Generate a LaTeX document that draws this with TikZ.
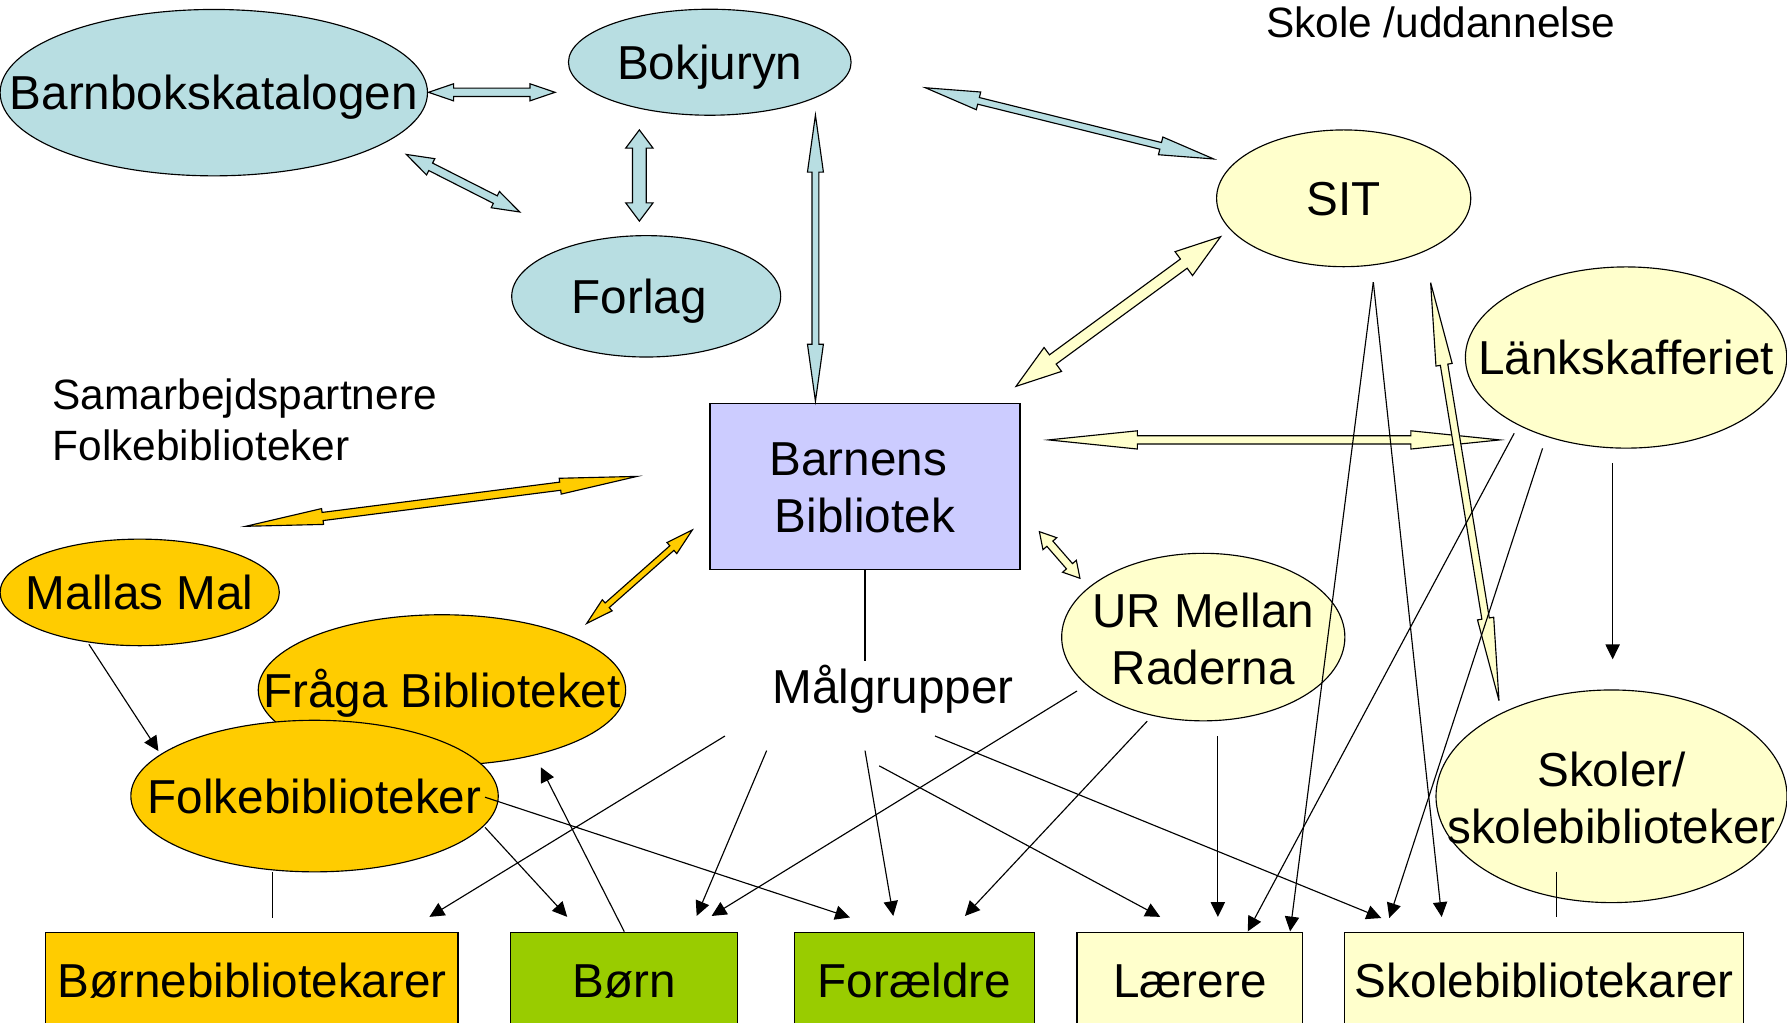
\documentclass[tikz,border=0pt]{standalone}
\usepackage{fontspec}
\setmainfont{Liberation Sans}
\usetikzlibrary{calc,arrows.meta,shapes.geometric}

\definecolor{cblue}{RGB}{184,222,226}
\definecolor{cyel}{RGB}{255,255,204}
\definecolor{corg}{RGB}{255,204,0}
\definecolor{cgrn}{RGB}{153,204,0}
\definecolor{clav}{RGB}{204,204,255}

\newcommand\dblarrow[6]{%
  \draw[barrow, fill=#6]
    (#1)
    -- ($(#1)!#5!(#2)!#4!90:(#2)$)
    -- ($(#1)!#5!(#2)!#3!90:(#2)$)
    -- ($(#2)!#5!(#1)!#3!-90:(#1)$)
    -- ($(#2)!#5!(#1)!#4!-90:(#1)$)
    -- (#2)
    -- ($(#2)!#5!(#1)!#4!90:(#1)$)
    -- ($(#2)!#5!(#1)!#3!90:(#1)$)
    -- ($(#1)!#5!(#2)!#3!-90:(#2)$)
    -- ($(#1)!#5!(#2)!#4!-90:(#2)$)
    -- cycle;}

\tikzset{
  ell/.style={ellipse, draw, line width=1pt, inner sep=0pt},
  bx/.style={rectangle, draw, line width=1pt, inner sep=0pt,
    font=\fontsize{41.8}{50}\selectfont, text height=30pt, text depth=0pt},
  lbl/.style={font=\fontsize{41.8}{50}\selectfont, inner sep=0pt, text height=30pt, text depth=0pt},
  lbltwo/.style={font=\fontsize{41.8}{50}\selectfont, inner sep=0pt, align=center},
  sm/.style={font=\fontsize{37.2}{45}\selectfont, inner sep=0pt},
  barrow/.style={draw, line width=1pt, line join=miter},
  tarrow/.style={draw, line width=1pt, -{Triangle[length=13pt,width=12.5pt]}},
  tline/.style={draw, line width=1pt},
}

\begin{document}
\begin{tikzpicture}[x=1pt,y=-1pt]
\useasboundingbox (0,0) rectangle (1568,897);
\clip (0,0) rectangle (1568,897);

% ---- nodes ----
\node[ell, fill=cblue, minimum width=375pt, minimum height=146pt, label={[lbl]center:Barnbokskatalogen}] (bbk) at (187.6,81.3) {};
\node[ell, fill=cblue, minimum width=248pt, minimum height=93pt, label={[lbl]center:Bokjuryn}] (bok) at (622.8,54.6) {};
\node[ell, fill=cblue, minimum width=236pt, minimum height=106.5pt, label={[lbl, xshift=-6pt]center:Forlag}] (forlag) at (567,260) {};
\node[ell, fill=cyel, minimum width=223pt, minimum height=120pt, label={[lbl]center:SIT}] (sit) at (1179,174) {};
\node[ell, fill=cyel, minimum width=282pt, minimum height=159pt, label={[lbl]center:Länkskafferiet}] (lank) at (1426.8,313.7) {};
\node[ell, fill=cyel, minimum width=248.5pt, minimum height=147pt, label={[lbltwo, yshift=-2pt]center:UR Mellan\\Raderna}] (ur) at (1055.8,559) {};
\node[ell, fill=cyel, minimum width=308pt, minimum height=186.6pt, label={[lbltwo, yshift=-1.5pt]center:Skoler/\\skolebiblioteker}] (skoler) at (1414,698.7) {};
\node[ell, fill=corg, minimum width=245pt, minimum height=93.5pt, label={[lbl]center:Mallas Mal}] (mallas) at (122.6,519.8) {};
\node[ell, fill=corg, minimum width=322.4pt, minimum height=132pt, label={[lbl]center:Fråga Biblioteket}] (fraga) at (387.8,605.4) {};
\node[ell, fill=corg, minimum width=322.4pt, minimum height=133pt, label={[lbl]center:Folkebiblioteker}] (folk) at (276,698.5) {};
\node[rectangle, draw, line width=1pt, fill=clav, minimum width=272pt, minimum height=145.5pt, label={[lbltwo, yshift=-1pt]center:Barnens\kern11.6pt\\Bibliotek}] (bb) at (759,426.75) {};

\node[bx, fill=corg, minimum width=361.6pt, minimum height=84pt] (bbib) at (221.1,860) {Børnebibliotekarer};
\node[bx, fill=cgrn, minimum width=199pt, minimum height=84pt] (born) at (547.8,860) {Børn};
\node[bx, fill=cgrn, minimum width=210.5pt, minimum height=84pt] (forael) at (802.25,860) {Forældre};
\node[bx, fill=cyel, minimum width=198pt, minimum height=84pt] (laer) at (1044,860) {Lærere};
\node[bx, fill=cyel, minimum width=350pt, minimum height=84pt] (skbib) at (1355,860) {Skolebibliotekarer};

\node[lbl] (malg) at (783.5,602) {Målgrupper};
\node[sm, text height=26.6pt, text depth=0pt] (skole) at (1264,20) {Skole /uddannelse};
\node[sm, align=left, anchor=west] (samarb) at (46,368.5) {Samarbejdspartnere\\Folkebiblioteker};

% ---- block arrow end points ----
\coordinate (a1) at (376,81);      \coordinate (a2) at (487,81);
\coordinate (b1) at (356.5,135.5); \coordinate (b2) at (456,186);
\coordinate (c1) at (561,114);     \coordinate (c2) at (561,194);
\coordinate (d1) at (715.5,101);   \coordinate (d2) at (715.5,352);
\coordinate (e1) at (812,77);      \coordinate (e2) at (1065,139.5);
\coordinate (f1) at (1071,207.7);  \coordinate (f2) at (891.5,339);
\coordinate (g1) at (920,386);     \coordinate (g2) at (1316,386);
\coordinate (h1) at (1255.3,248);  \coordinate (h2) at (1315.3,614.8);
\coordinate (i1) at (912,466.5);   \coordinate (i2) at (947.6,507.4);
\coordinate (j1) at (215.6,461.8); \coordinate (j2) at (559,418);
\coordinate (k1) at (607.5,465);   \coordinate (k2) at (514.8,547);

\dblarrow{a1}{a2}{3.7pt}{7.5pt}{22pt}{cblue}
\dblarrow{b1}{b2}{3.7pt}{8pt}{24pt}{cblue}
\dblarrow{c1}{c2}{6pt}{12pt}{16pt}{cblue}
\dblarrow{d1}{d2}{3pt}{7pt}{50pt}{cblue}
\dblarrow{e1}{e2}{3pt}{8pt}{48pt}{cblue}
\dblarrow{f1}{f2}{5pt}{13pt}{40pt}{cyel}
\dblarrow{g1}{g2}{3.6pt}{8pt}{78pt}{cyel}
\dblarrow{h1}{h2}{3.3pt}{7.2pt}{73pt}{cyel}
\dblarrow{i1}{i2}{3.5pt}{8pt}{14pt}{cyel}
\dblarrow{j1}{j2}{3.6pt}{7pt}{68pt}{corg}
\dblarrow{k1}{k2}{2.7pt}{6.5pt}{24pt}{corg}

% ---- thin connector end points ----
\coordinate (ma0) at (78,565.3);     \coordinate (ma1) at (139,659);
\coordinate (bm1) at (759,579.7);
\coordinate (fl0) at (238.8,765);    \coordinate (fl1) at (238.8,805.2);
\coordinate (sk0) at (1365.9,764.8); \coordinate (sk1) at (1365.9,804.9);
\coordinate (m1s) at (636.1,645.8);  \coordinate (m1e) at (376.8,804.5);
\coordinate (m2s) at (672.7,658.6);  \coordinate (m2e) at (611.3,803.7);
\coordinate (m3s) at (759,658.6);    \coordinate (m3e) at (783.8,803.7);
\coordinate (m4s) at (771.5,672);    \coordinate (m4e) at (1018,804.5);
\coordinate (m5s) at (820.4,645.8);  \coordinate (m5e) at (1212,805.5);
\coordinate (f1s) at (425.6,699.5);  \coordinate (f1e) at (745.8,805);
\coordinate (f2s) at (425.6,726);    \coordinate (f2e) at (497.7,804.5);
\coordinate (bfe) at (474.5,673.2);
\coordinate (u1s) at (945,606.3);    \coordinate (u1e) at (624.4,803.7);
\coordinate (u2s) at (1006.6,632.8); \coordinate (u2e) at (846.7,803.7);
\coordinate (u3s) at (1068.6,645.8); \coordinate (u3e) at (1068.6,804.6);
\coordinate (s0) at (1205,247.5);
\coordinate (s1e) at (1132,817.3);   \coordinate (s2e) at (1265,804.6);
\coordinate (k1s) at (1328.6,380.2); \coordinate (k1e) at (1094.8,817.3);
\coordinate (k2s) at (1353.5,393.4); \coordinate (k2e) at (1219,805.5);
\coordinate (k3s) at (1415,406.5);   \coordinate (k3e) at (1415,578.5);

\path[tline] (bb.south) -- (bm1);
\path[tline] (fl0) -- (fl1);
\path[tline] (sk0) -- (sk1);
\path[tarrow] (ma0) -- (ma1);
\path[tarrow] (m1s) -- (m1e);
\path[tarrow] (m2s) -- (m2e);
\path[tarrow] (m3s) -- (m3e);
\path[tarrow] (m4s) -- (m4e);
\path[tarrow] (m5s) -- (m5e);
\path[tarrow] (f1s) -- (f1e);
\path[tarrow] (f2s) -- (f2e);
\path[tarrow] (born.north) -- (bfe);
\path[tarrow] (u1s) -- (u1e);
\path[tarrow] (u2s) -- (u2e);
\path[tarrow] (u3s) -- (u3e);
\path[tarrow] (s0) -- (s1e);
\path[tarrow] (s0) -- (s2e);
\path[tarrow] (k1s) -- (k1e);
\path[tarrow] (k2s) -- (k2e);
\path[tarrow] (k3s) -- (k3e);
\end{tikzpicture}
\end{document}
